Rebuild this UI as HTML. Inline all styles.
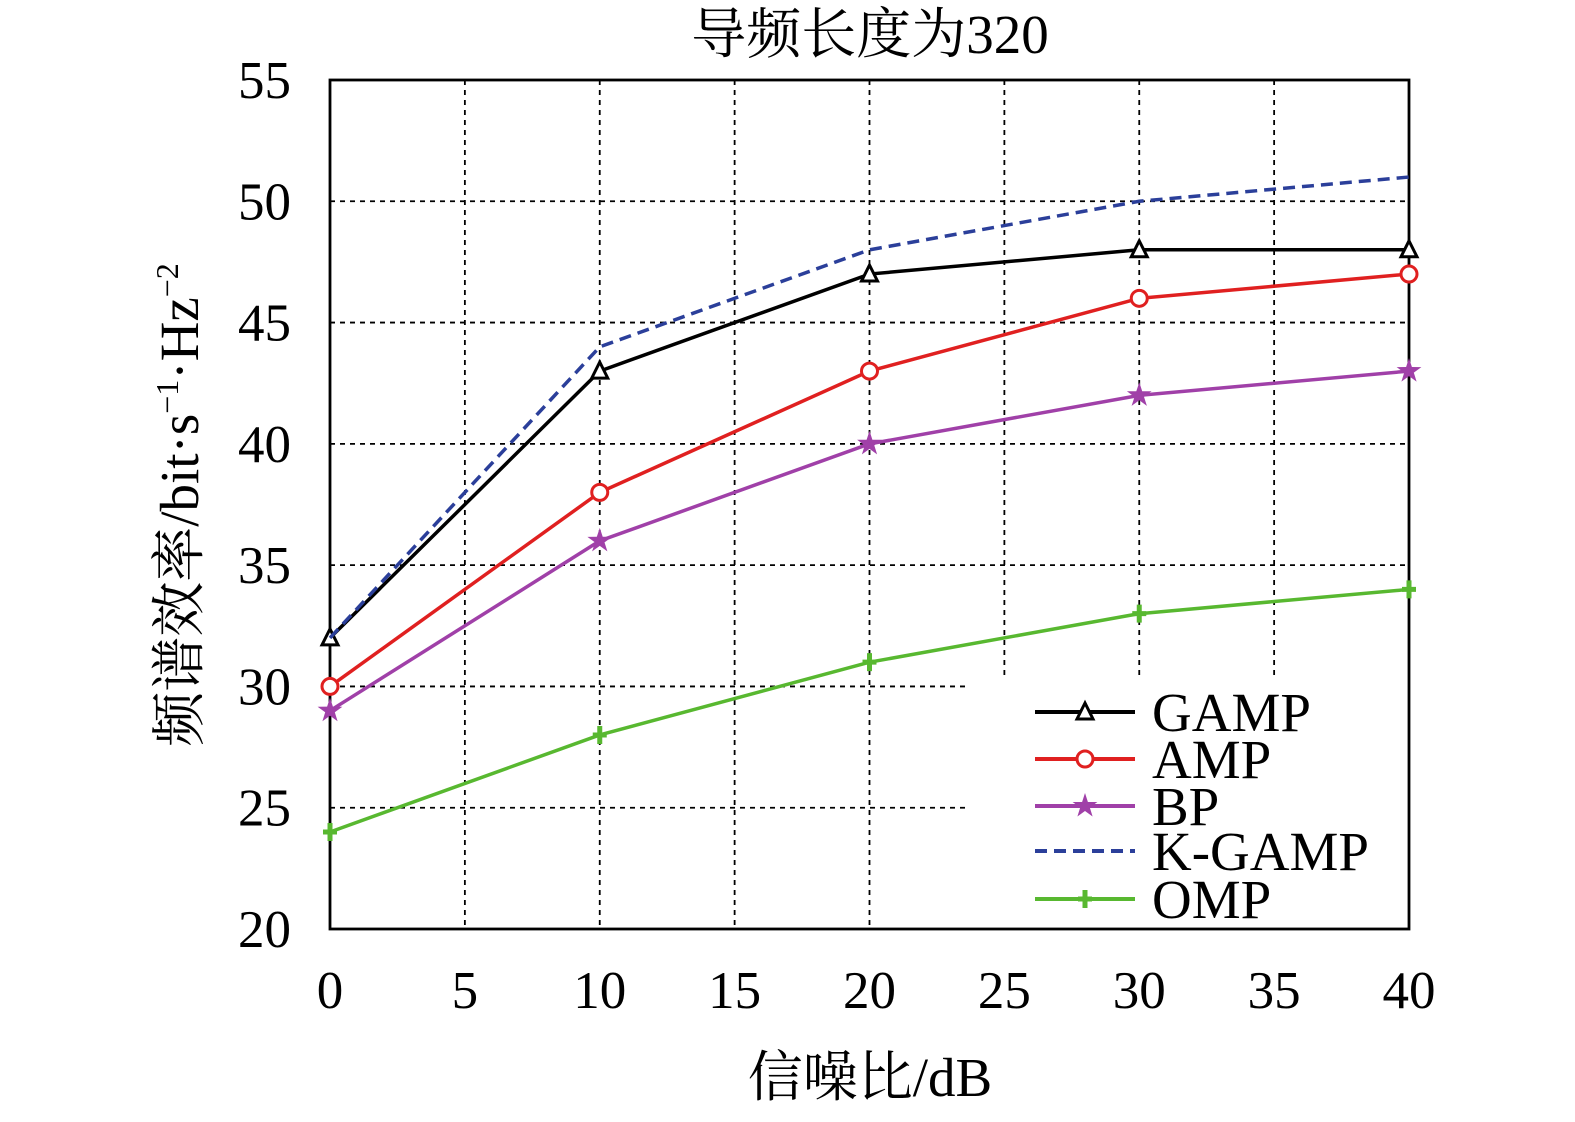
<!DOCTYPE html>
<html><head><meta charset="utf-8"><style>
body{margin:0;background:#fff}
svg{display:block;font-family:"Liberation Serif","Noto Serif CJK SC",serif}
</style></head><body>
<svg id="c" width="1575" height="1122" viewBox="0 0 1575 1122"></svg>
<script>
const categories=[0,10,20,30,40];
const gamp=[32,43,47,48,48];
const amp=[30,38,43,46,47];
const bp=[29,36,40,42,43];
const kgamp=[32,44,48,50,51];
const omp=[24,28,31,33,34];
const xTicks=[0,5,10,15,20,25,30,35,40];
const yTicks=[20,25,30,35,40,45,50,55];
const seriesNames=["GAMP","AMP","BP","K-GAMP","OMP"];

const NS="http://www.w3.org/2000/svg";
const svg=document.getElementById('c');
const X0=330,X1=1409,Y0=929,Y1=80;
const xs=v=>X0+(v-0)/(40-0)*(X1-X0);
const ys=v=>Y0-(v-20)/(55-20)*(Y0-Y1);
function el(t,a,p){const e=document.createElementNS(NS,t);for(const k in a)e.setAttribute(k,a[k]);(p||svg).appendChild(e);return e;}

const grid=el('g',{});


xTicks.slice(1,-1).forEach(t=>{
  const x=xs(t);
  const yEnd=x>965?678:Y0;
  const l=el('line',{x1:x,x2:x,y1:Y1,y2:yEnd,stroke:'#000','stroke-width':1.8,'stroke-dasharray':'5,5'},grid);
  
  
});
yTicks.slice(1,-1).forEach(t=>{
  const y=ys(t);
  const xEnd=y>680?965:X1;
  const l=el('line',{x1:X0,x2:xEnd,y1:y,y2:y,stroke:'#000','stroke-width':1.8,'stroke-dasharray':'5,5'},grid);
  
  
});
const frame=el('rect',{x:X0,y:Y1,width:X1-X0,height:Y0-Y1,fill:'none',stroke:'#000','stroke-width':2.8});



xTicks.forEach(t=>{
  const tx=el('text',{x:xs(t),y:1008,'font-size':53,'text-anchor':'middle'});
  tx.textContent=t;
  
  
});
yTicks.forEach(t=>{
  const tx=el('text',{x:291,y:ys(t)+18,'font-size':53,'text-anchor':'end'});
  tx.textContent=t;
  
  
});

function marker(type,x,y,color,g){
  if(type==='tri'){el('polygon',{points:`${x},${y-9} ${x-8},${y+7} ${x+8},${y+7}`,fill:'#fff',stroke:color,'stroke-width':3},g);}
  else if(type==='circ'){el('circle',{cx:x,cy:y,r:8,fill:'#fff',stroke:color,'stroke-width':3},g);}
  else if(type==='star'){let p=[];for(let i=0;i<10;i++){const r=i%2?5:13,a=-Math.PI/2+i*Math.PI/5;p.push((x+r*Math.cos(a)).toFixed(1)+','+(y+r*Math.sin(a)).toFixed(1));}el('polygon',{points:p.join(' '),fill:color},g);}
  else if(type==='plus'){el('path',{d:`M${x-7},${y}H${x+7}M${x},${y-9}V${y+9}`,stroke:color,'stroke-width':5},g);}
}
const defs=[
  {name:'gamp',data:gamp,color:'#000',m:'tri',dash:null},
  {name:'amp',data:amp,color:'#e02020',m:'circ',dash:null},
  {name:'bp',data:bp,color:'#a040a8',m:'star',dash:null},
  {name:'k-gamp',data:kgamp,color:'#2b3f9a',m:null,dash:'12,7'},
  {name:'omp',data:omp,color:'#58b830',m:'plus',dash:null}
];
defs.forEach(s=>{
  const g=el('g',{});
  
  
  const a={points:s.data.map((v,i)=>xs(categories[i])+','+ys(v)).join(' '),fill:'none',stroke:s.color,'stroke-width':3.5};
  if(s.dash)a['stroke-dasharray']=s.dash;
  el('polyline',a,g);
  if(s.m)s.data.forEach((v,i)=>marker(s.m,xs(categories[i]),ys(v),s.color,g));
});

const lg=el('g',{});


const ly=[712,759,806,851,899];
defs.forEach((s,i)=>{
  const e=el('g',{},lg);
  
  
  const a={x1:1035,x2:1135,y1:ly[i],y2:ly[i],stroke:s.color,'stroke-width':4};
  if(s.dash)a['stroke-dasharray']='12,7';
  el('line',a,e);
  if(s.m)marker(s.m,1085,ly[i],s.color,e);
  const t=el('text',{x:1152,y:ly[i]+19,'font-size':55},e);
  t.textContent=seriesNames[i];
});

const title=el('text',{x:870,y:53,'font-size':55,'text-anchor':'middle'});
title.textContent='导频长度为320';


const xt=el('text',{x:870,y:1096,'font-size':55,'text-anchor':'middle'});
xt.textContent='信噪比/dB';


const yt=el('text',{x:0,y:0,'font-size':55,'text-anchor':'middle',transform:'translate(198,505) rotate(-90)'});
yt.innerHTML='频谱效率/bit·s<tspan dy="-20" font-size="32">−1</tspan><tspan dy="20">·Hz</tspan><tspan dy="-20" font-size="32">−2</tspan>';


</script>
</body></html>
